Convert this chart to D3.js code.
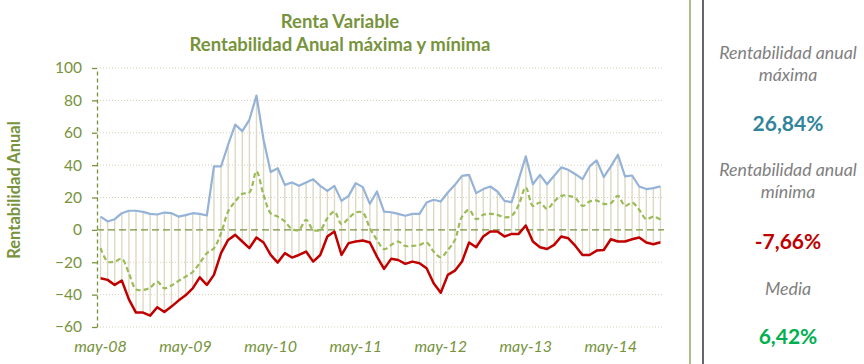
<!DOCTYPE html>
<html>
<head>
<meta charset="utf-8">
<script src="https://cdn.jsdelivr.net/npm/d3@7"></script>
<style>
  body { margin: 0; background: #fff; }
  svg { display: block; font-family: Lato, "Open Sans", sans-serif; }
</style>
</head>
<body>
<svg id="chart" width="864" height="364"></svg>
<script>
// monthly categories, may-08 .. dic-14
var months = [
  "may-08","jun-08","jul-08","ago-08","sep-08","oct-08","nov-08","dic-08",
  "ene-09","feb-09","mar-09","abr-09","may-09","jun-09","jul-09","ago-09","sep-09","oct-09","nov-09","dic-09",
  "ene-10","feb-10","mar-10","abr-10","may-10","jun-10","jul-10","ago-10","sep-10","oct-10","nov-10","dic-10",
  "ene-11","feb-11","mar-11","abr-11","may-11","jun-11","jul-11","ago-11","sep-11","oct-11","nov-11","dic-11",
  "ene-12","feb-12","mar-12","abr-12","may-12","jun-12","jul-12","ago-12","sep-12","oct-12","nov-12","dic-12",
  "ene-13","feb-13","mar-13","abr-13","may-13","jun-13","jul-13","ago-13","sep-13","oct-13","nov-13","dic-13",
  "ene-14","feb-14","mar-14","abr-14","may-14","jun-14","jul-14","ago-14","sep-14","oct-14","nov-14","dic-14"
];

// rentabilidad anual maxima (%)
var maxima = [
  8.2, 5.2, 6.6, 10.3, 11.8, 11.8, 11.1, 9.9, 9.5, 10.7, 10.3, 8.2,
  9.1, 10.3, 9.9, 8.9, 39.2, 39.2, 52.6, 65.0, 61.0, 68.0, 83.0, 55.7,
  35.7, 38.1, 27.8, 29.3, 27.2, 29.3, 31.3, 27.2, 24.1, 27.2, 17.9, 21.0,
  28.9, 26.4, 16.1, 23.7, 11.3, 10.9, 9.9, 8.7, 9.9, 9.9, 16.9, 18.6,
  17.5, 23.1, 27.8, 33.4, 34.0, 22.7, 25.2, 26.8, 23.7, 17.9, 17.1, 31.0,
  45.4, 28.2, 34.0, 28.2, 33.4, 38.6, 37.1, 34.4, 31.3, 39.2, 42.9, 32.6,
  39.2, 46.4, 33.0, 33.6, 26.8, 25.2, 25.8, 26.84
];

// rentabilidad anual media (%)
var media = [
  -11.3, -19.6, -19.6, -17.9, -26.8, -36.7, -37.1, -35.7, -32.0, -36.1, -34.4, -31.5,
  -28.9, -26.0, -20.5, -14.4, -11.3, -2.1, 11.3, 17.5, 22.3, 23.1, 36.1, 21.6,
  10.3, 8.2, 5.2, 0.5, 0.0, 6.2, 0.0, 0.0, 7.2, 11.3, 3.5, 7.2,
  10.7, 10.7, 1.0, -6.2, -11.9, -9.3, -7.2, -9.9, -9.9, -9.3, -7.8, -13.4,
  -16.9, -12.4, -6.2, 8.2, 12.4, 6.6, 9.3, 9.9, 9.3, 7.8, 8.7, 15.5,
  26.2, 14.8, 16.9, 13.0, 17.5, 21.0, 21.0, 19.6, 14.8, 17.5, 18.1, 16.1,
  16.5, 21.0, 14.8, 16.9, 12.4, 6.6, 8.2, 6.42
];

// rentabilidad anual minima (%)
var minima = [
  -29.9, -30.9, -34.0, -31.3, -42.9, -51.1, -51.1, -53.0, -47.8, -50.7, -47.4, -43.7,
  -40.4, -36.1, -29.3, -34.0, -27.8, -14.4, -6.2, -3.1, -7.2, -11.3, -4.7, -7.8,
  -15.5, -20.2, -14.4, -17.1, -15.5, -13.4, -19.6, -15.5, -4.1, -1.0, -15.5, -8.2,
  -7.2, -6.6, -7.8, -16.5, -24.1, -17.9, -18.6, -21.0, -19.6, -20.6, -23.7, -33.0,
  -38.8, -27.8, -25.2, -19.6, -7.8, -10.7, -4.1, -1.0, -1.0, -4.1, -2.5, -2.5,
  2.7, -7.2, -10.7, -11.8, -9.3, -4.1, -5.2, -9.9, -15.5, -15.5, -12.8, -12.4,
  -5.8, -7.2, -7.2, -5.8, -4.7, -7.8, -8.9, -7.66
];

var yTicks = [-60, -40, -20, 0, 20, 40, 60, 80, 100];
var xTickLabels = ["may-08", "may-09", "may-10", "may-11", "may-12", "may-13", "may-14"];

var panelLabels = ["Rentabilidad anual|máxima", "Rentabilidad anual|mínima", "Media"];
var panelValues = ["26,84%", "-7,66%", "6,42%"];

var olive = "#77933C";
var margin = {top: 68, right: 200, bottom: 37, left: 97};
var W = 864, H = 364;

var svg = d3.select("#chart");

var x = d3.scaleBand()
  .domain(months)
  .range([margin.left, 664]);
var cx = function(m) { return x(m) + x.bandwidth() / 2; };

var y = d3.scaleLinear()
  .domain([-60, 100])
  .range([H - margin.bottom, margin.top]);

var rows = months.map(function(m, i) {
  return {m: m, max: maxima[i], mean: media[i], min: minima[i]};
});

// gridlines
svg.append("g")
  .selectAll("line")
  .data(yTicks.filter(function(d) { return d != 0; }))
  .enter().append("line")
  .attr("x1", margin.left).attr("x2", 664)
  .attr("y1", function(d) { return y(d); })
  .attr("y2", function(d) { return y(d); })
  .attr("stroke", "#D3CFB4")
  .attr("stroke-width", 1)
  .attr("stroke-dasharray", "1,2");

// high-low lines
svg.append("g")
  .selectAll("line")
  .data(rows)
  .enter().append("line")
  .attr("x1", function(d) { return cx(d.m); })
  .attr("x2", function(d) { return cx(d.m); })
  .attr("y1", function(d) { return y(d.max); })
  .attr("y2", function(d) { return y(d.min); })
  .attr("stroke", "#DDD9C3")
  .attr("stroke-width", 1.4);

// zero line
svg.append("line")
  .attr("x1", margin.left).attr("x2", 664)
  .attr("y1", y(0)).attr("y2", y(0))
  .attr("stroke", olive)
  .attr("stroke-width", 1.3)
  .attr("stroke-dasharray", "7,4");

// y axis
var yAxis = d3.axisLeft(y).tickValues(yTicks).tickSize(5).tickSizeOuter(0).tickPadding(10);
var gy = svg.append("g")
  .attr("transform", "translate(" + margin.left + ",0)")
  .call(yAxis);
gy.select(".domain")
  .attr("stroke", olive).attr("stroke-width", 1.3).attr("stroke-dasharray", "4,3");
gy.selectAll(".tick line").attr("stroke", olive).attr("stroke-width", 1.3);
gy.selectAll(".tick text")
  .attr("fill", olive)
  .style("font-size", "15.5px")
  .style("font-family", "Lato, sans-serif");

// x axis
var xAxis = d3.axisBottom(x).tickValues(xTickLabels).tickSize(0).tickPadding(14);
var gx = svg.append("g")
  .attr("transform", "translate(0," + (H - margin.bottom) + ")")
  .call(xAxis);
gx.select(".domain").remove();
gx.selectAll(".tick text")
  .attr("fill", olive)
  .style("font-size", "16px")
  .style("font-style", "italic")
  .style("font-family", "Lato, sans-serif");

// series lines
var lineMax = d3.line().x(function(d) { return cx(d.m); }).y(function(d) { return y(d.max); });
var lineMean = d3.line().x(function(d) { return cx(d.m); }).y(function(d) { return y(d.mean); })
  .curve(d3.curveCatmullRom.alpha(0.5));
var lineMin = d3.line().x(function(d) { return cx(d.m); }).y(function(d) { return y(d.min); });

svg.append("path").datum(rows)
  .attr("d", lineMax)
  .attr("fill", "none")
  .attr("stroke", "#95B3D7")
  .attr("stroke-width", 2.2)
  .attr("stroke-linejoin", "round");

svg.append("path").datum(rows)
  .attr("d", lineMean)
  .attr("fill", "none")
  .attr("stroke", "#9BBB59")
  .attr("stroke-width", 2.2)
  .attr("stroke-dasharray", "5,3");

svg.append("path").datum(rows)
  .attr("d", lineMin)
  .attr("fill", "none")
  .attr("stroke", "#C00000")
  .attr("stroke-width", 2.5)
  .attr("stroke-linejoin", "round");

// title
svg.append("text")
  .attr("x", 340).attr("y", 28)
  .attr("text-anchor", "middle")
  .attr("fill", olive)
  .style("font-size", "18.5px").style("font-weight", "bold")
  .text("Renta Variable");
svg.append("text")
  .attr("x", 340).attr("y", 51)
  .attr("text-anchor", "middle")
  .attr("fill", olive)
  .style("font-size", "18.5px").style("font-weight", "bold")
  .text("Rentabilidad Anual máxima y mínima");

// y axis label
svg.append("text")
  .attr("transform", "translate(20,190) rotate(-90)")
  .attr("text-anchor", "middle")
  .attr("fill", olive)
  .style("font-size", "16.5px").style("font-weight", "bold")
  .text("Rentabilidad Anual");

// panel separators
svg.append("line")
  .attr("x1", 690).attr("x2", 690).attr("y1", 0).attr("y2", H)
  .attr("stroke", "#77933C").attr("stroke-width", 1.2);
svg.append("line")
  .attr("x1", 703).attr("x2", 703).attr("y1", 0).attr("y2", H)
  .attr("stroke", "#000").attr("stroke-width", 1.2);

// right panel
var panelX = 788;
var labelY = [59, 176, 295];
var valueY = [131, 249, 344];
var valueColors = ["#31849B", "#C00000", "#00B050"];

panelLabels.forEach(function(lbl, i) {
  var t = svg.append("text")
    .attr("x", panelX).attr("y", labelY[i])
    .attr("text-anchor", "middle")
    .attr("fill", "#7F7F7F")
    .style("font-size", "17.8px").style("font-style", "italic");
  lbl.split("|").forEach(function(part, j) {
    t.append("tspan")
      .attr("x", panelX)
      .attr("dy", j == 0 ? 0 : 22)
      .text(part);
  });
  svg.append("text")
    .attr("x", panelX).attr("y", valueY[i])
    .attr("text-anchor", "middle")
    .attr("fill", valueColors[i])
    .style("font-size", "21px").style("font-weight", "bold")
    .text(panelValues[i]);
});
</script>
</body>
</html>
